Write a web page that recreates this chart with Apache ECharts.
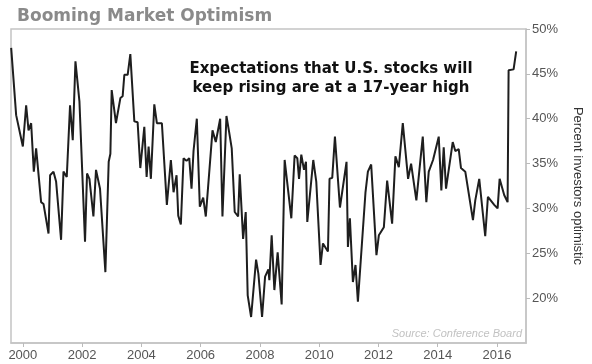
<!DOCTYPE html>
<html>
<head>
<meta charset="utf-8">
<script src="https://cdn.jsdelivr.net/npm/echarts@6/dist/echarts.min.js"></script>
<style>
html,body{margin:0;padding:0;background:#fff;}
#c{width:592px;height:364px;}
</style>
</head>
<body>
<div id="c"></div>
<script>
// Decimal years of line vertices
var years = [1999.606,1999.774,2000.000,2000.111,2000.192,2000.280,2000.370,2000.448,2000.616,2000.697,
2000.866,2000.920,2001.034,2001.122,2001.290,2001.371,2001.482,2001.593,2001.684,2001.775,
2001.910,2002.098,2002.166,2002.247,2002.381,2002.469,2002.604,2002.785,2002.897,2002.954,
2002.998,2003.142,2003.291,2003.368,2003.425,2003.537,2003.627,2003.762,2003.873,2003.964,
2004.099,2004.177,2004.244,2004.321,2004.436,2004.523,2004.692,2004.860,2004.995,2005.086,
2005.187,2005.244,2005.332,2005.423,2005.524,2005.615,2005.692,2005.760,2005.803,2005.871,
2005.972,2006.086,2006.174,2006.400,2006.511,2006.659,2006.736,2006.871,2006.962,2007.049,
2007.150,2007.265,2007.319,2007.433,2007.521,2007.588,2007.703,2007.871,2007.949,2008.073,
2008.175,2008.286,2008.319,2008.397,2008.488,2008.599,2008.734,2008.835,2009.060,2009.171,
2009.262,2009.320,2009.397,2009.488,2009.555,2009.599,2009.801,2009.902,2010.047,2010.128,
2010.296,2010.350,2010.441,2010.532,2010.701,2010.923,2010.970,2011.037,2011.138,2011.226,
2011.307,2011.563,2011.644,2011.755,2011.933,2012.014,2012.183,2012.294,2012.462,2012.573,
2012.688,2012.822,2013.001,2013.102,2013.280,2013.496,2013.617,2013.698,2013.843,2014.035,
2014.123,2014.203,2014.281,2014.507,2014.594,2014.709,2014.786,2014.931,2015.190,2015.268,
2015.325,2015.402,2015.604,2015.695,2015.908,2016.022,2016.090,2016.244,2016.359,2016.393,
2016.561,2016.649];

// Percent of investors optimistic
var optimism = [47.9,40.4,36.9,41.5,38.7,39.5,34.1,36.7,30.7,30.5,
27.2,33.7,34.1,33.0,26.5,34.1,33.5,41.5,37.6,46.4,
41.9,26.3,33.9,33.3,29.1,34.3,32.2,22.9,35.2,36.1,
43.2,39.5,42.3,42.5,44.9,44.9,47.2,39.7,39.6,34.5,
39.1,33.5,36.9,33.3,41.6,39.5,39.5,30.4,35.4,31.8,
33.7,29.2,28.2,35.6,35.3,35.6,32.2,36.4,36.4,40.0,
30.2,31.2,29.1,38.7,37.4,40.0,29.1,40.3,38.5,36.7,
29.6,29.1,33.8,26.6,29.6,20.3,17.9,24.3,22.7,17.9,
22.4,23.2,22.0,27.0,20.9,25.1,19.3,35.4,28.9,35.9,
35.6,33.3,36.0,34.3,35.2,28.5,35.4,33.0,23.7,26.1,
25.2,33.3,33.4,38.0,30.1,35.2,25.7,28.9,21.8,23.7,
19.6,31.8,34.1,34.9,24.8,27.0,27.9,33.1,28.3,35.8,
34.6,39.5,33.3,35.0,30.9,38.0,30.7,34.1,35.4,38.0,
32.0,36.8,32.2,37.4,36.4,36.6,34.5,34.1,28.7,30.9,
30.9,33.3,26.9,31.3,30.4,30.0,33.3,31.5,30.7,45.4,
45.5,47.5];

var xTicks = [2000,2002,2004,2006,2008,2010,2012,2014,2016];
var yTicks = [20,25,30,35,40,45,50];

var pairs = years.map(function(y,i){ return [y, optimism[i]]; });

var chart = echarts.init(document.getElementById('c'), null, {renderer:'canvas'});
chart.setOption({
  animation:false,
  backgroundColor:'#fff',
  title:{
    text:'Booming Market Optimism',
    left:12, top:3,
    textStyle:{fontFamily:'DejaVu Sans', fontWeight:'bold', fontSize:17, color:'#8a8a8a'}
  },
  grid:{left:11, right:65, top:29, bottom:21, show:true, borderColor:'#c4c4c4', borderWidth:1.5, backgroundColor:'#fff'},
  xAxis:{
    type:'value', min:1999.6, max:2016.98,
    axisLine:{show:true, lineStyle:{color:'#c4c4c4', width:1.5}},
    axisTick:{show:true, customValues:xTicks, length:4, lineStyle:{color:'#bbb'}},
    axisLabel:{customValues:xTicks, margin:6, fontFamily:'Liberation Sans', fontSize:13, color:'#555',
      formatter:function(v){return String(Math.round(v));}},
    splitLine:{show:false}
  },
  yAxis:{
    type:'value', position:'right', min:15, max:50,
    name:'Percent investors optimistic', nameLocation:'middle', nameRotate:-90, nameGap:45,
    nameTextStyle:{fontFamily:'Liberation Sans', fontSize:13, color:'#333'},
    axisLine:{show:true, lineStyle:{color:'#c4c4c4', width:1.5}},
    axisTick:{show:true, customValues:yTicks, length:4, lineStyle:{color:'#bbb'}},
    axisLabel:{customValues:yTicks, margin:6, fontFamily:'Liberation Sans', fontSize:13, color:'#555',
      formatter:function(v){return v+'%';}},
    splitLine:{show:false}
  },
  graphic:[
    {type:'text', x:0, y:0, style:{
      text:'Expectations that U.S. stocks will\nkeep rising are at a 17-year high',
      x:331, y:60, align:'center', verticalAlign:'top',
      font:'bold 15px "DejaVu Sans"', fill:'#111', lineHeight:19}},
    {type:'text', x:0, y:0, style:{
      text:'Source: Conference Board', x:522, y:334, align:'right', verticalAlign:'middle',
      font:'italic 11px "Liberation Sans"', fill:'#c2c2c2'}}
  ],
  series:[{
    type:'line', data:pairs, showSymbol:false, symbol:'none',
    lineStyle:{color:'#1e1e1e', width:2}, smooth:false
  }]
});
</script>
</body>
</html>
